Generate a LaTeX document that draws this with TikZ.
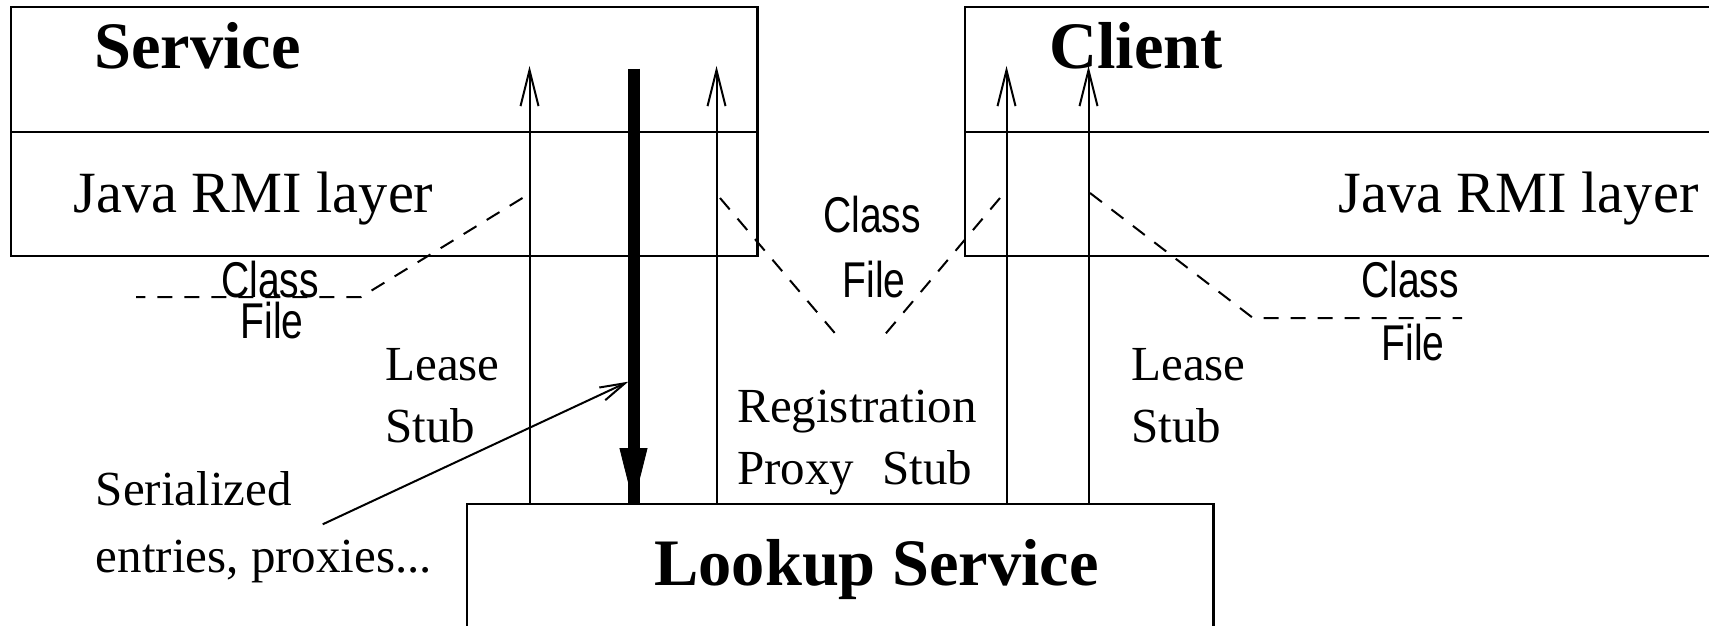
\documentclass[tikz,border=0pt]{standalone}
\usepackage{fontspec}
\setmainfont{Liberation Serif}
\newfontfamily\cfsans{Liberation Sans}
\usetikzlibrary{arrows.meta}

% sizes of the texts
\newcommand{\titlefont}{\fontsize{33.2pt}{38pt}\selectfont\bfseries}
\newcommand{\layerfont}{\fontsize{29.2pt}{35pt}\selectfont}
\newcommand{\labelfont}{\fontsize{24.5pt}{30pt}\selectfont}
\newcommand{\cf}[1]{\scalebox{0.8}[1.03]{\cfsans\fontsize{24.4pt}{30pt}\selectfont #1}}

\begin{document}
\begin{tikzpicture}[x=0.5pt,y=-0.5pt,
    box/.style={line width=1.1pt},
    txt/.style={inner sep=0pt,anchor=base west},
    cftxt/.style={inner sep=0pt,anchor=base},
    upward/.style={line width=1pt,-{Straight Barb[length=18pt,width=9pt]}},
    pointer/.style={line width=1pt,-{Straight Barb[length=12.5pt,width=7pt]}},
    shaft/.style={line width=6pt},
    bigarrow/.style={line width=6pt,-{Triangle[length=28pt,width=14pt,line width=0.4pt]}},
    classfile/.style={line width=1pt,dash pattern=on 7.5pt off 6pt}]
\useasboundingbox (0,0) rectangle (1709,626);
\clip (0,0) rectangle (1709,626);

% the three boxes
\draw[box] (10.7,7.3) rectangle (757.5,256);
\draw[box] (10.7,131.7) -- (757.5,131.7);
\draw[box] (964.6,7.3) rectangle (1730,256);
\draw[box] (964.6,131.7) -- (1730,131.7);
\draw[box] (467,504) rectangle (1213.5,650);

\node[txt,font=\titlefont] (service) at (94,69) {Service};
\node[txt,font=\titlefont] (client) at (1049,69) {Client};
\node[txt,font=\titlefont] (lookup) at (654,585) {Lookup Service};
\node[txt,font=\layerfont] (svcrmi) at (73,213) {Java RMI layer};
\node[txt,font=\layerfont] (clirmi) at (1338,213) {Java RMI layer};

% ends of the links on the lookup box and in the two boxes
\coordinate (ls1) at (529.5,504);  \coordinate (svc1) at (529.5,66);
\coordinate (ls2) at (716.5,504);  \coordinate (svc2) at (716.5,66);
\coordinate (ls3) at (1006.5,504); \coordinate (cli3) at (1006.5,66);
\coordinate (ls4) at (1088.5,504); \coordinate (cli4) at (1088.5,66);
\coordinate (bartop) at (633.5,69); \coordinate (barend) at (633.5,504);

\draw[upward] (ls1) -- (svc1);
\draw[upward] (ls2) -- (svc2);
\draw[upward] (ls3) -- (cli3);
\draw[upward] (ls4) -- (cli4);
\draw[shaft] (bartop) -- (barend);
\draw[bigarrow] (bartop) -- (barend);

% class files
\coordinate (cfa) at (522.5,198); \coordinate (cfa1) at (361,297); \coordinate (cfa2) at (136,297);
\coordinate (cfb) at (720,198);   \coordinate (cfb1) at (839,338);
\coordinate (cfc) at (1000,198);  \coordinate (cfc1) at (882,338);
\coordinate (cfd) at (1090,193);  \coordinate (cfd1) at (1253,318); \coordinate (cfd2) at (1462,318);
\draw[classfile] (cfa) -- (cfa1) -- (cfa2);
\draw[classfile] (cfb) -- (cfb1);
\draw[classfile] (cfc) -- (cfc1);
\draw[classfile] (cfd) -- (cfd1) -- (cfd2);

\node[cftxt] (classa) at (270,297) {\cf{Class}};
\node[cftxt] (filea) at (272,338) {\cf{File}};
\node[cftxt] (classb) at (872,233) {\cf{Class}};
\node[cftxt] (fileb) at (874,297) {\cf{File}};
\node[cftxt] (classc) at (1410,297) {\cf{Class}};
\node[cftxt] (filec) at (1413,360) {\cf{File}};

% stubs and proxies
\node[txt,font=\labelfont] (lease1) at (385,380) {Lease};
\node[txt,font=\labelfont] (stub1) at (385,442) {Stub};
\node[txt,font=\labelfont] (lease2) at (1131,380) {Lease};
\node[txt,font=\labelfont] (stub2) at (1131,442) {Stub};
\node[txt,font=\labelfont] (regis) at (737,422) {Registration};
\node[txt,font=\labelfont] (proxy) at (737,484) {Proxy};
\node[txt,font=\labelfont] (stub3) at (882,484) {Stub};

\node[txt,font=\labelfont] (serial) at (95.5,505) {Serialized};
\node[txt,font=\labelfont] (entries) at (95.5,572) {entries, proxies...};
\coordinate (serfrom) at (322.7,524.3);
\coordinate (serto) at (628.3,381.7);
\draw[pointer] (serfrom) -- (serto);
\end{tikzpicture}
\end{document}
